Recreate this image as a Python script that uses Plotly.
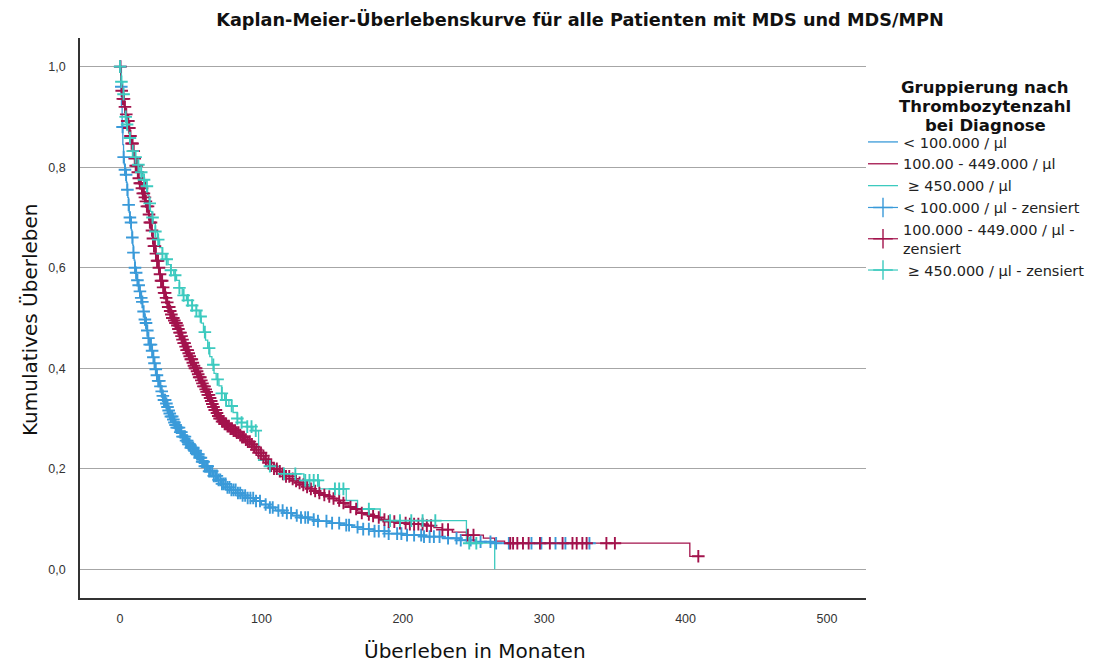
import plotly.graph_objects as go

# ---------------- data ----------------
# Step functions: time in months and cumulative survival after the step
blue_t = [0, 0.5, 1, 1.5, 2, 2.5, 3, 3.5, 4, 4.5, 5, 5.5, 6, 6.5, 7, 7.5, 8, 8.5, 9, 9.5, 10, 10.5,
          11, 11.5, 12, 12.5, 13, 13.5, 14, 14.5, 15, 15.5, 16, 16.5, 17, 17.5, 18, 18.5, 19, 19.5,
          20, 21, 22, 23, 24, 25, 26, 27, 28, 29, 30, 31, 32, 33, 34, 35, 36, 37, 38, 39, 40, 42,
          44, 46, 48, 50, 52, 54, 56, 58, 60, 63, 66, 69, 72, 75, 78, 82, 86, 90, 95, 100, 105, 110,
          116, 122, 128, 134, 140, 148, 156, 164, 172, 180, 190, 200, 215, 228, 240, 252, 265, 332]
blue_s = [1.0, 0.96, 0.92, 0.88, 0.845, 0.82, 0.805, 0.795, 0.785, 0.77, 0.755, 0.74, 0.725, 0.71,
          0.70, 0.69, 0.675, 0.66, 0.645, 0.63, 0.615, 0.60, 0.59, 0.58, 0.575, 0.57, 0.565, 0.56,
          0.553, 0.547, 0.54, 0.532, 0.522, 0.513, 0.505, 0.497, 0.49, 0.482, 0.475, 0.467, 0.46,
          0.447, 0.435, 0.422, 0.41, 0.398, 0.386, 0.375, 0.364, 0.354, 0.345, 0.337, 0.33, 0.323,
          0.316, 0.31, 0.304, 0.298, 0.292, 0.287, 0.282, 0.273, 0.264, 0.256, 0.249, 0.242, 0.236,
          0.229, 0.222, 0.214, 0.205, 0.195, 0.186, 0.178, 0.17, 0.163, 0.158, 0.152, 0.147, 0.142,
          0.136, 0.129, 0.123, 0.117, 0.112, 0.107, 0.103, 0.099, 0.096, 0.092, 0.088, 0.084, 0.08,
          0.076, 0.071, 0.068, 0.065, 0.062, 0.058, 0.055, 0.052, 0.052]

red_t = [0, 0.5, 1, 2, 3, 4, 5, 6, 7, 8, 9, 10, 11, 12, 13, 14, 15, 16, 17, 18, 19, 20, 21, 22,
         23, 24, 25, 26, 27, 28, 29, 30, 31, 32, 33, 34, 35, 36, 37, 38, 39, 40, 41, 42, 43, 44,
         45, 46, 47, 48, 49, 50, 51, 52, 53, 54, 55, 56, 57, 58, 59, 60, 61, 62, 63, 64, 65, 66,
         67, 68, 69, 70, 72, 74, 76, 78, 80, 82, 84, 86, 88, 90, 92, 94, 96, 98, 100, 102, 104,
         106, 108, 111, 114, 117, 120, 123, 126, 129, 132, 135, 138, 141, 144, 147, 150, 153, 156,
         159, 162, 165, 168, 171, 174, 177, 180, 185, 190, 195, 205, 215, 222, 228, 235, 245, 257,
         265, 272, 403, 409]
red_s = [1.0, 0.962, 0.952, 0.936, 0.92, 0.905, 0.892, 0.878, 0.862, 0.847, 0.832, 0.817, 0.803,
         0.79, 0.778, 0.768, 0.758, 0.748, 0.74, 0.732, 0.722, 0.706, 0.69, 0.674, 0.658, 0.643,
         0.628, 0.614, 0.60, 0.587, 0.574, 0.561, 0.55, 0.54, 0.531, 0.522, 0.514, 0.507, 0.5,
         0.495, 0.49, 0.485, 0.478, 0.471, 0.464, 0.457, 0.45, 0.443, 0.436, 0.43, 0.424, 0.418,
         0.411, 0.405, 0.40, 0.394, 0.388, 0.382, 0.376, 0.37, 0.364, 0.358, 0.353, 0.347, 0.341,
         0.335, 0.329, 0.323, 0.317, 0.311, 0.305, 0.30, 0.294, 0.289, 0.285, 0.28, 0.276, 0.272,
         0.267, 0.263, 0.258, 0.254, 0.249, 0.244, 0.238, 0.232, 0.226, 0.219, 0.212, 0.206, 0.20,
         0.195, 0.19, 0.185, 0.18, 0.176, 0.172, 0.168, 0.164, 0.16, 0.156, 0.152, 0.148, 0.145,
         0.141, 0.137, 0.132, 0.128, 0.124, 0.12, 0.116, 0.112, 0.109, 0.106, 0.103, 0.099, 0.095,
         0.092, 0.09, 0.087, 0.083, 0.079, 0.074, 0.068, 0.062, 0.056, 0.052, 0.026, 0.026]

cyan_t = [0, 1, 2, 3, 4, 5, 6, 7, 8, 9, 10, 12, 14, 16, 18, 19.5, 20.5, 21.5, 22.5, 23.5, 25,
          26.5, 28, 30, 32, 34, 36, 38, 40, 42, 44, 47, 51, 54, 56, 57.5, 59, 60.5, 62, 63.5, 65,
          66.5, 68, 70, 72, 74, 77, 80, 83, 86, 90, 94, 98, 106, 113, 130, 141, 160, 168, 184,
          245, 265]
cyan_s = [1.0, 0.97, 0.945, 0.92, 0.9, 0.885, 0.87, 0.858, 0.845, 0.832, 0.82, 0.805, 0.79, 0.775,
          0.762, 0.745, 0.728, 0.712, 0.70, 0.688, 0.672, 0.656, 0.64, 0.628, 0.617, 0.606, 0.595,
          0.585, 0.575, 0.56, 0.545, 0.535, 0.525, 0.515, 0.503, 0.49, 0.472, 0.456, 0.44, 0.423,
          0.407, 0.39, 0.378, 0.365, 0.35, 0.337, 0.325, 0.312, 0.30, 0.292, 0.284, 0.276, 0.217,
          0.205, 0.19, 0.177, 0.16, 0.137, 0.12, 0.097, 0.052, 0.0]

# Censored observation times (months)
blue_cens = [0.2, 0.9, 1.8, 2.6, 3.5, 4.3, 5.2, 6.1, 7.0, 7.8, 8.7, 9.5, 10.6, 11.4, 12.3, 13.2,
             14.1, 15.0, 15.8, 16.7, 17.6, 18.4, 19.3, 20.1, 21.0, 21.9, 22.7, 23.6, 24.4, 25.3,
             26.1, 27.0, 27.8, 28.6, 29.5, 30.3, 31.1, 31.9, 32.8, 33.6, 34.4, 35.2, 36.0, 36.9,
             37.7, 38.5, 39.3, 40.1, 40.9, 41.7, 42.6, 43.4, 44.2, 45.0, 45.9, 46.7, 47.5, 48.4,
             49.2, 50.1, 51.0, 51.8, 52.7, 53.6, 54.5, 55.4, 56.3, 57.2, 58.1, 59.1, 60.0, 61.0,
             62.0, 63.0, 64.1, 65.2, 66.3, 67.4, 68.5, 69.7, 70.9, 72.1, 73.4, 74.7, 76.0, 77.4,
             78.8, 80.3, 81.8, 83.4, 85.0, 86.7, 88.5, 90.3, 92.2, 94.2, 96.2, 99.0, 103.0, 106.0,
             108.0, 112.0, 115.0, 118.0, 121.0, 125.0, 128.0, 131.0, 133.0, 137.0, 140.0, 146.0,
             150.0, 155.0, 160.0, 162.0, 168.0, 172.0, 176.0, 180.0, 183.0, 187.0, 190.0, 196.0,
             199.0, 203.0, 208.0, 213.0, 215.0, 219.0, 222.0, 226.0, 232.0, 238.0, 241.0, 248.0,
             255.0, 262.0, 266.0, 275.0, 291.0, 298.0, 308.0, 315.0, 332.0]

red_cens = [0.3, 1.2, 2.0, 2.8, 3.5, 4.4, 5.1, 5.9, 6.6, 7.4, 8.2, 8.9, 9.7, 10.4, 11.1, 11.9,
            12.6, 13.3, 14.0, 14.8, 15.5, 16.1, 16.9, 17.6, 18.3, 19.0, 19.8, 20.5, 21.1, 21.9,
            22.6, 23.3, 24.0, 24.7, 25.4, 26.2, 26.9, 27.5, 28.3, 29.0, 29.8, 30.5, 31.2, 31.9,
            32.6, 33.4, 34.1, 34.8, 35.5, 36.3, 37.0, 37.7, 38.4, 39.2, 39.9, 40.6, 41.3, 42.1,
            42.8, 43.5, 44.2, 45.0, 45.7, 46.4, 47.1, 47.9, 48.6, 49.3, 50.1, 50.8, 51.5, 52.3,
            53.0, 53.8, 54.5, 55.3, 56.0, 56.8, 57.5, 58.3, 59.0, 59.8, 60.6, 61.3, 62.1, 62.9,
            63.7, 64.5, 65.3, 66.1, 67.0, 67.8, 68.6, 69.5, 70.4, 71.3, 72.2, 73.1, 74.0, 75.0,
            76.0, 77.0, 78.1, 79.2, 80.3, 81.4, 82.6, 83.8, 85.0, 86.3, 87.6, 89.0, 90.4, 91.8,
            93.3, 94.8, 96.4, 98.0, 99.7, 101.4, 103.2, 105.0, 106.9, 108.9, 110.9, 113.0, 115.2,
            117.4, 119.7, 122.1, 124.5, 127.0, 129.6, 132.3, 135.0, 138.0, 141.0, 144.5, 148.0,
            151.0, 155.0, 158.0, 163.0, 167.0, 171.0, 176.0, 179.0, 183.0, 187.0, 190.0, 194.0,
            198.0, 202.0, 205.0, 208.0, 211.0, 214.0, 217.0, 220.0, 228.0, 232.0, 246.0, 250.0,
            276.0, 278.0, 281.0, 285.0, 289.0, 297.0, 304.0, 313.0, 320.0, 323.0, 327.0, 330.0,
            344.0, 350.0, 409.0]

cyan_cens = [0.0, 1.0, 2.5, 4.0, 5.0, 7.0, 9.0, 11.0, 13.0, 15.0, 17.0, 19.0, 21.0, 23.0, 25.0,
             27.0, 30.0, 33.0, 36.0, 39.0, 42.0, 45.0, 48.0, 51.0, 54.0, 57.0, 60.0, 63.0, 66.0,
             69.0, 72.0, 75.0, 79.0, 83.0, 86.0, 90.0, 93.0, 96.0, 106.0, 116.0, 124.0, 131.0,
             134.0, 137.0, 140.0, 152.0, 155.0, 158.0, 176.0, 191.0, 198.0, 206.0, 214.0, 223.0,
             247.0, 252.0]

names_lines = ["< 100.000 / µl", "100.00 - 449.000 / µl", "\u00a0≥ 450.000 / µl"]
names_cens = ["< 100.000 / µl - zensiert", "100.000 - 449.000 / µl -<br>zensiert",
              "\u00a0≥ 450.000 / µl - zensiert"]
colors = ["#3a9ad9", "#a3134c", "#3ccabf"]

title_text = "Kaplan-Meier-Überlebenskurve für alle Patienten mit MDS und MDS/MPN"
x_title = "Überleben in Monaten"
y_title = "Kumulatives Überleben"
legend_title_lines = ["Gruppierung nach", "Thrombozytenzahl", "bei Diagnose"]
x_ticks = [0, 100, 200, 300, 400, 500]
y_ticks = [0.0, 0.2, 0.4, 0.6, 0.8, 1.0]


def surv_at(ts, ss, t):
    val = ss[0]
    for ti, si in zip(ts, ss):
        if ti <= t:
            val = si
        else:
            break
    return val


groups = [(blue_t, blue_s, blue_cens), (red_t, red_s, red_cens), (cyan_t, cyan_s, cyan_cens)]

fig = go.Figure()
for (ts, ss, _), nm, col in zip(groups, names_lines, colors):
    fig.add_trace(go.Scatter(x=ts, y=ss, mode="lines", line=dict(color=col, width=1.3, shape="hv"),
                             name=nm, legendrank=1))
for i, ((ts, ss, cens), nm, col) in enumerate(zip(groups, names_cens, colors)):
    fig.add_trace(go.Scatter(x=cens, y=[surv_at(ts, ss, c) for c in cens], mode="markers",
                             marker=dict(symbol="cross-thin", size=9,
                                         line=dict(color=col, width=1.9)),
                             name=nm, showlegend=False, legendgroup="c%d" % i))
    # legend key: plus sign crossed by a short line, as in the reference key
    fig.add_trace(go.Scatter(x=[None], y=[None], mode="lines+markers",
                             line=dict(color=col, width=1.2),
                             marker=dict(symbol="cross-thin", size=14,
                                         line=dict(color=col, width=1.4)),
                             name=nm, legendgroup="c%d" % i, legendrank=2))

font_main = "DejaVu Sans, Liberation Sans, Arial, sans-serif"
font_ticks = "Liberation Sans, Arial, sans-serif"

annotations = [
    dict(text=x_title, x=(475.5 - 80) / 786, y=-(651 - 598) / 560, xref="paper", yref="paper",
         showarrow=False, font=dict(family=font_main, size=20, color="#111111"),
         xanchor="center", yanchor="middle"),
    dict(text=y_title, x=(30 - 80) / 786, y=(598 - 320) / 560, xref="paper", yref="paper",
         showarrow=False, textangle=-90, font=dict(family=font_main, size=20, color="#111111"),
         xanchor="center", yanchor="middle"),
]
for line, ypix in zip(legend_title_lines, [87, 106, 125]):
    annotations.append(dict(text="<b>" + line + "</b>", x=(985 - 80) / 786,
                            y=(598 - ypix) / 560, xref="paper", yref="paper", showarrow=False,
                            font=dict(family=font_main, size=16.5, color="#111111"),
                            xanchor="center", yanchor="middle"))

fig.update_layout(
    width=1106, height=664,
    margin=dict(l=80, r=240, t=38, b=66, autoexpand=False),
    paper_bgcolor="white", plot_bgcolor="white",
    font=dict(family=font_main, color="#222222"),
    separators=",.",
    title=dict(text="<b>" + title_text + "</b>", x=580 / 1106, xref="container",
               xanchor="center", y=1 - 20 / 664, yref="container", yanchor="middle",
               font=dict(family=font_main, size=17.7, color="#111111")),
    xaxis=dict(range=[-28.3, 527.6], tickvals=x_ticks, showgrid=False, zeroline=False,
               showline=True, linecolor="#333333", linewidth=1.5, ticks="", ticklabelstandoff=8,
               tickfont=dict(family=font_ticks, size=12.5, color="#333333")),
    yaxis=dict(range=[-0.057, 1.057], tickvals=y_ticks, tickformat=".1f", showgrid=True,
               gridcolor="#a6a6a6", gridwidth=1, zeroline=False, showline=True,
               linecolor="#333333", linewidth=1.5, ticks="", ticklabelstandoff=10,
               tickfont=dict(family=font_ticks, size=12.5, color="#333333")),
    legend=dict(x=(863 - 80) / 786, xanchor="left", y=1 - (126 - 38) / 560, yanchor="top",
                font=dict(family=font_main, size=14.5, color="#222222"), tracegroupgap=0,
                itemwidth=30, bgcolor="rgba(0,0,0,0)", traceorder="normal"),
    annotations=annotations,
)

fig.write_html("out.html")
